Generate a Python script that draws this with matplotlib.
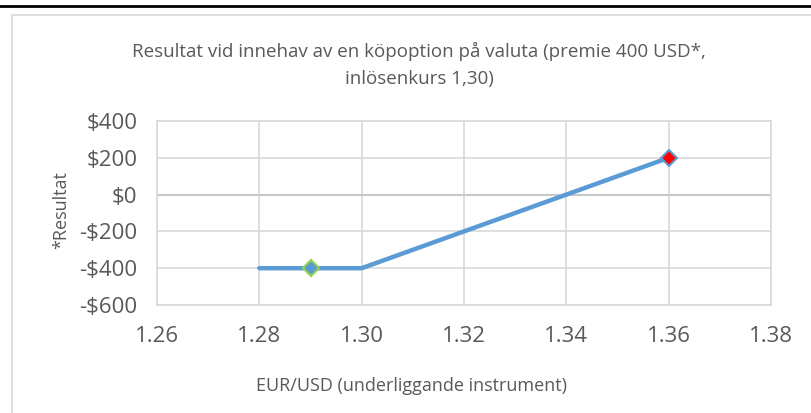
import matplotlib.pyplot as plt
from matplotlib.patches import Rectangle
from matplotlib.lines import Line2D
from matplotlib.ticker import FuncFormatter

plt.rcParams['font.family'] = ['Open Sans', 'DejaVu Sans']

# payoff of the call option
kurs = [1.28, 1.30, 1.36]
resultat = [-400, -400, 200]
# highlighted points
start_x, start_y = 1.29, -400
slut_x, slut_y = 1.36, 200

xticks = [1.26, 1.28, 1.30, 1.32, 1.34, 1.36, 1.38]
yticks = [-600, -400, -200, 0, 200, 400]

titel = "Resultat vid innehav av en köpoption på valuta (premie 400 USD*,\ninlösenkurs 1,30)"
xlabel = "EUR/USD (underliggande instrument)"
ylabel = "*Resultat"

W, H = 812, 413
fig = plt.figure(figsize=(W/100, H/100), dpi=100)
textCol = '#595959'
gridCol = '#D9D9D9'
lineCol = '#5B9BD5'

# black rule at the top of the page + chart frame
fig.add_artist(Line2D([0, 1], [1-6/H, 1-6/H], color='black', lw=2, transform=fig.transFigure))
fig.add_artist(Rectangle((12/W, -0.1), 1.2, 1.1-15/H, transform=fig.transFigure,
                         fill=False, edgecolor='#D9D9D9', lw=1.2))

ax = fig.add_axes([157/W, 1-305/H, (771-157)/W, (305-121)/H])
ax.plot(kurs, resultat, color=lineCol, lw=3.2, solid_capstyle='round', zorder=3)
ax.plot(start_x, start_y, marker='D', ms=8, mfc=lineCol, mec='#92D050', mew=1.5, zorder=4)
ax.plot(slut_x, slut_y, marker='D', ms=8, mfc='red', mec=lineCol, mew=1.5, zorder=4)

ax.set_xlim(1.26, 1.38)
ax.set_ylim(-600, 400)
ax.set_xticks(xticks)
ax.set_yticks(yticks)
ax.xaxis.set_major_formatter(FuncFormatter(lambda v, p: f"{v:.2f}"))
ax.yaxis.set_major_formatter(FuncFormatter(lambda v, p: f"-${abs(v):.0f}" if v < 0 else f"${v:.0f}"))
ax.tick_params(length=0, labelsize=16, labelcolor=textCol, pad=15)
ax.tick_params(axis='y', pad=14)
ax.grid(True, color=gridCol, lw=1.2)
ax.axhline(0, color='#C8C8C8', lw=1.5, zorder=1)
ax.set_axisbelow(True)
for s in ax.spines.values():
    s.set_color(gridCol)
    s.set_linewidth(1.2)

fig.text(419/W, 1-65/H, titel, ha='center', va='center', fontsize=13.5, color=textCol, linespacing=1.6)
fig.text(412/W, 1-386/H, xlabel, ha='center', va='center', fontsize=13, color=textCol)
fig.text(61/W, 1-210/H, ylabel, ha='center', va='center', rotation=90, fontsize=13, color=textCol)

fig.savefig('out.png', dpi=100)
